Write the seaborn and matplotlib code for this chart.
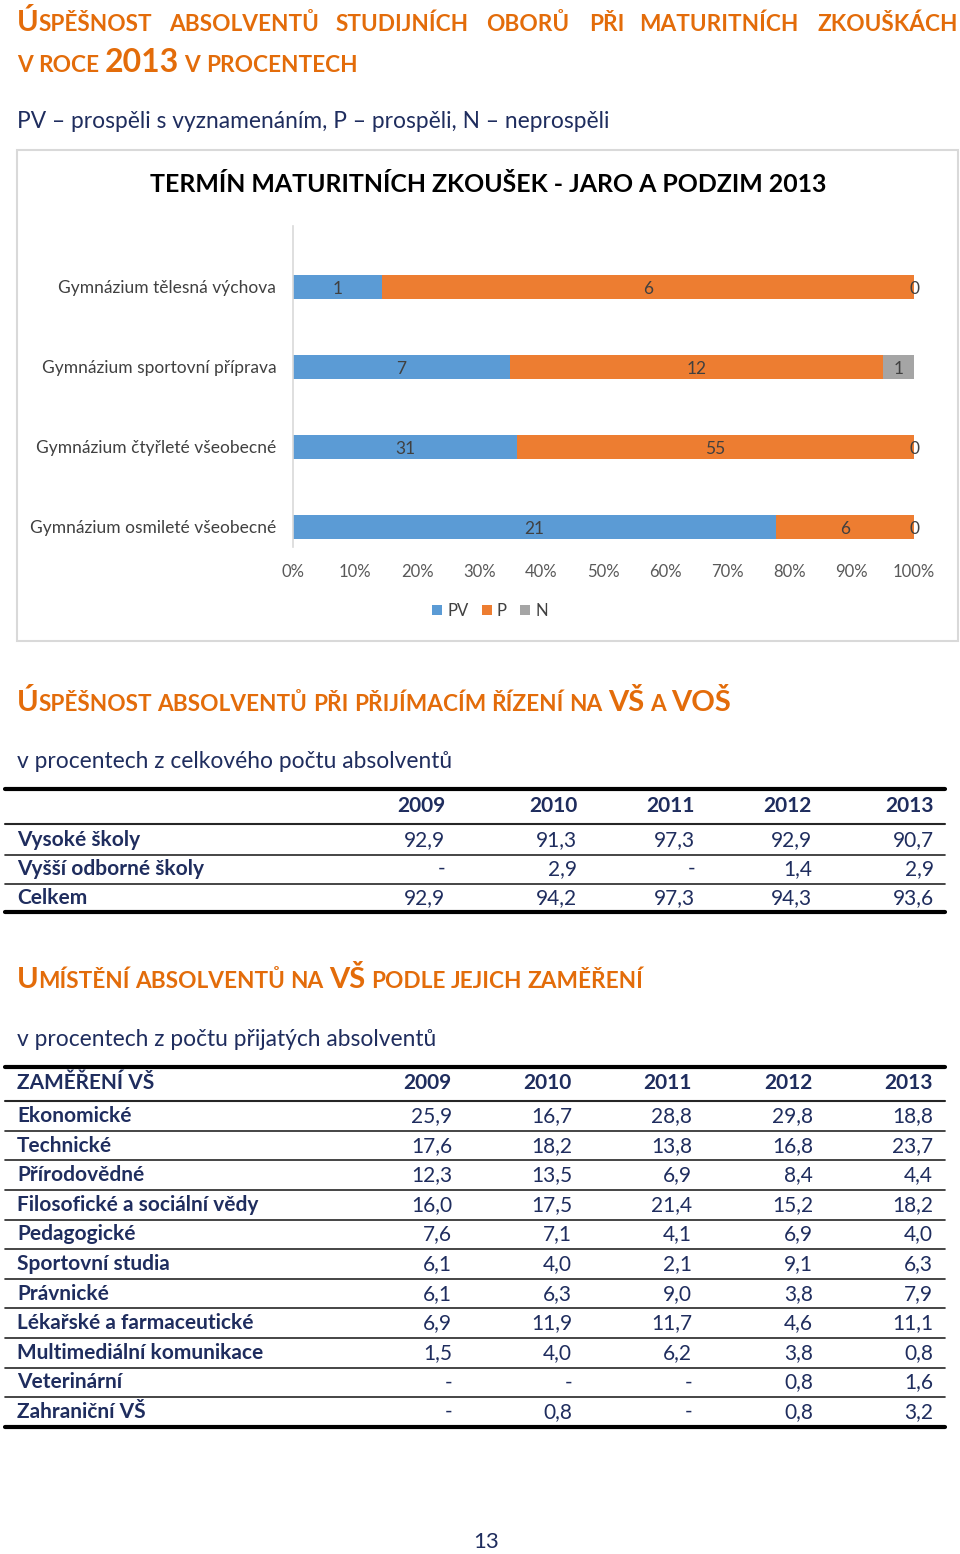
import numpy as np
import pandas as pd
import matplotlib
matplotlib.use("Agg")
import matplotlib.pyplot as plt
from matplotlib.patches import Patch, Rectangle
import seaborn as sns

# ---------------- data ----------------
categories = ["Gymnázium tělesná výchova", "Gymnázium sportovní příprava",
              "Gymnázium čtyřleté všeobecné", "Gymnázium osmileté všeobecné"]
pv = [1, 7, 31, 21]
p = [6, 12, 55, 6]
n = [0, 1, 0, 0]
series = ["PV", "P", "N"]
x_ticks = [0, 10, 20, 30, 40, 50, 60, 70, 80, 90, 100]

years = ["2009", "2010", "2011", "2012", "2013"]
t1_rows = ["Vysoké školy", "Vyšší odborné školy", "Celkem"]
t1_vals = [["92,9", "91,3", "97,3", "92,9", "90,7"],
           ["-", "2,9", "-", "1,4", "2,9"],
           ["92,9", "94,2", "97,3", "94,3", "93,6"]]

t2_header = "ZAMĚŘENÍ VŠ"
t2_rows = ["Ekonomické", "Technické", "Přírodovědné", "Filosofické a sociální vědy",
           "Pedagogické", "Sportovní studia", "Právnické", "Lékařské a farmaceutické",
           "Multimediální komunikace", "Veterinární", "Zahraniční VŠ"]
t2_vals = [["25,9", "16,7", "28,8", "29,8", "18,8"],
           ["17,6", "18,2", "13,8", "16,8", "23,7"],
           ["12,3", "13,5", "6,9", "8,4", "4,4"],
           ["16,0", "17,5", "21,4", "15,2", "18,2"],
           ["7,6", "7,1", "4,1", "6,9", "4,0"],
           ["6,1", "4,0", "2,1", "9,1", "6,3"],
           ["6,1", "6,3", "9,0", "3,8", "7,9"],
           ["6,9", "11,9", "11,7", "4,6", "11,1"],
           ["1,5", "4,0", "6,2", "3,8", "0,8"],
           ["-", "-", "-", "0,8", "1,6"],
           ["-", "0,8", "-", "0,8", "3,2"]]

# ---------------- style ----------------
sns.set_theme(style="white")
plt.rcParams["font.family"] = ["Lato", "DejaVu Sans"]

W, H = 960, 1554
ORANGE = "#E36C0A"
NAVY = "#1F2D5E"
C_PV, C_P, C_N = "#5B9BD5", "#ED7D31", "#A5A5A5"

fig = plt.figure(figsize=(W / 100, H / 100), dpi=100)
bg = fig.add_axes([0, 0, 1, 1], zorder=0)
bg.set_xlim(0, W)
bg.set_ylim(H, 0)
bg.axis("off")
renderer = fig.canvas.get_renderer()


def rich(x, y, words, color, gap=6, weight="bold"):
    """words: list of words; each word is a list of (text, size) segments; y = baseline px"""
    for w in words:
        for s, size in w:
            t = fig.text(x / W, 1 - y / H, s, fontsize=size, color=color,
                         fontweight=weight, va="baseline", ha="left")
            bb = t.get_window_extent(renderer)
            x = bb.x1 - 0.5
        x += gap


S, L = 16.3, 21
# Title line 1 (justified words)
title1 = [([("Ú", L), ("SPĚŠNOST", S)], 17), ([("ABSOLVENTŮ", S)], 169),
          ([("STUDIJNÍCH", S)], 336), ([("OBORŮ", S)], 486), ([("PŘI", S)], 589),
          ([("MATURITNÍCH", S)], 639), ([("ZKOUŠKÁCH", S)], 817)]
for segs, x0 in title1:
    rich(x0, 31, [segs], ORANGE)
rich(17, 72, [[("V", S)], [("ROCE", S)], [("2013", 23)], [("V", S)], [("PROCENTECH", S)]], ORANGE)

fig.text(17 / W, 1 - 122 / H, "PV – prospěli s vyznamenáním, P – prospěli, N – neprospěli",
         fontsize=16.4, color=NAVY, va="center", ha="left")

# ---------------- chart box ----------------
bg.add_patch(Rectangle((17, 150), 941, 491, fill=False, edgecolor="#D9D9D9", lw=1.5))
fig.text(488 / W, 1 - 185 / H, "TERMÍN MATURITNÍCH ZKOUŠEK - JARO A PODZIM 2013",
         fontsize=17.9, fontweight="bold", color="black", ha="center", va="center")

tot = np.array(pv) + np.array(p) + np.array(n)
pv_pct = np.array(pv) / tot * 100
pvp_pct = (np.array(pv) + np.array(p)) / tot * 100
all_pct = (np.array(pv) + np.array(p) + np.array(n)) / tot * 100
df = pd.DataFrame({"cat": categories, "pv": pv_pct, "pvp": pvp_pct, "all": all_pct})

ax = fig.add_axes([293 / W, 1 - 547 / H, 621 / W, 321 / H], zorder=2)
ax.patch.set_alpha(0)
for col, c in (("all", C_N), ("pvp", C_P), ("pv", C_PV)):
    sns.barplot(data=df, x=col, y="cat", order=categories, color=c, saturation=1,
                width=0.29, orient="h", ax=ax, linewidth=0)
ax.set_xlim(0, 100)
ax.set_ylim(3.25, -0.7625)
ax.set_xlabel("")
ax.set_ylabel("")
ax.set_xticks(x_ticks)
ax.set_xticklabels([f"{t}%" for t in x_ticks])
ax.tick_params(axis="x", length=0, pad=12, labelsize=12, labelcolor="#595959")
ax.tick_params(axis="y", length=0, pad=12, labelsize=12.5, labelcolor="#404040")
for sp in ("top", "right", "bottom"):
    ax.spines[sp].set_visible(False)
ax.spines["left"].set_color("#D9D9D9")
ax.spines["left"].set_linewidth(1.2)
ax.grid(False)

for i in range(len(categories)):
    segs = [(pv[i], pv_pct[i] / 2),
            (p[i], (pv_pct[i] + pvp_pct[i]) / 2),
            (n[i], (pvp_pct[i] + all_pct[i]) / 2)]
    for val, xc in segs:
        ax.text(xc, i + 0.02, str(val), ha="center", va="center", fontsize=12.5, color="#404040")

handles = [Patch(facecolor=c, edgecolor="none") for c in (C_PV, C_P, C_N)]
fig.legend(handles, series, loc="center", bbox_to_anchor=(490 / W, 1 - 611 / H), ncol=3,
           frameon=False, handlelength=0.6, handleheight=0.6, handletextpad=0.3,
           columnspacing=0.8, fontsize=12, labelcolor="#404040")

# ---------------- table 1 ----------------
rich(17, 711, [[("Ú", L), ("SPĚŠNOST", S)], [("ABSOLVENTŮ", S)], [("PŘI", S)],
               [("PŘIJÍMACÍM", S)], [("ŘÍZENÍ", S)], [("NA", S)], [("VŠ", L)],
               [("A", S)], [("VOŠ", L)]], ORANGE)
fig.text(17 / W, 1 - 762 / H, "v procentech z celkového počtu absolventů",
         fontsize=16.4, color=NAVY, va="center", ha="left")

TS = 15
t1_right = [445, 577, 695, 812, 934]
bg.plot([5, 945], [789, 789], color="black", lw=3)
for x, yv in zip(t1_right, years):
    bg.text(x, 806, yv, ha="right", va="center", fontsize=TS, fontweight="bold", color=NAVY)
bg.plot([5, 945], [824, 824], color="#262626", lw=1.5)
t1_y = [840, 869, 898]
for r, (name, vals) in enumerate(zip(t1_rows, t1_vals)):
    bg.text(17, t1_y[r], name, ha="left", va="center", fontsize=TS, fontweight="bold", color=NAVY)
    for x, v in zip(t1_right, vals):
        bg.text(x, t1_y[r], v, ha="right", va="center", fontsize=TS, color=NAVY)
    if r < len(t1_rows) - 1:
        bg.plot([5, 945], [t1_y[r] + 14.5] * 2, color="#262626", lw=1.2)
bg.plot([5, 945], [912, 912], color="black", lw=3)

# ---------------- table 2 ----------------
rich(17, 988, [[("U", L), ("MÍSTĚNÍ", S)], [("ABSOLVENTŮ", S)], [("NA", S)], [("VŠ", L)],
               [("PODLE", S)], [("JEJICH", S)], [("ZAMĚŘENÍ", S)]], ORANGE)
fig.text(17 / W, 1 - 1039 / H, "v procentech z počtu přijatých absolventů",
         fontsize=16.4, color=NAVY, va="center", ha="left")

t2_right = [452, 572, 692, 813, 933]
bg.plot([5, 945], [1067, 1067], color="black", lw=3)
bg.text(17, 1083, t2_header, ha="left", va="center", fontsize=TS, fontweight="bold", color=NAVY)
for x, yv in zip(t2_right, years):
    bg.text(x, 1083, yv, ha="right", va="center", fontsize=TS, fontweight="bold", color=NAVY)
bg.plot([5, 945], [1101, 1101], color="#262626", lw=1.5)
row_h = 29.6
for r, (name, vals) in enumerate(zip(t2_rows, t2_vals)):
    yc = 1116 + r * row_h
    bg.text(17, yc, name, ha="left", va="center", fontsize=TS, fontweight="bold", color=NAVY)
    for x, v in zip(t2_right, vals):
        bg.text(x, yc, v, ha="right", va="center", fontsize=TS, color=NAVY)
    if r < len(t2_rows) - 1:
        bg.plot([5, 945], [yc + row_h / 2] * 2, color="#262626", lw=1.2)
bg.plot([5, 945], [1427, 1427], color="black", lw=3)

fig.text(486 / W, 1 - 1542 / H, "13", fontsize=16, color=NAVY, ha="center", va="center")

fig.savefig("out.png", dpi=100)
